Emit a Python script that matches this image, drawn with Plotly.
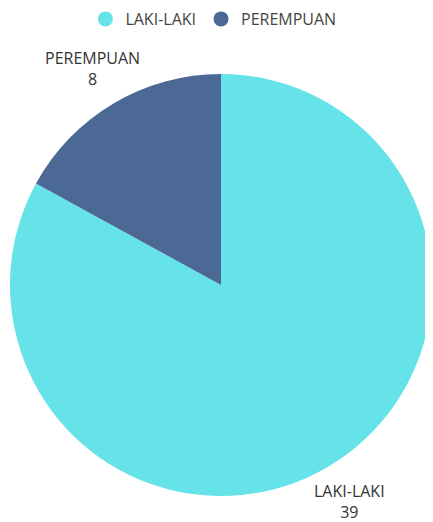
import math
import plotly.graph_objects as go

labels = ["LAKI-LAKI", "PEREMPUAN"]
values = [39, 8]
colors = ["#66E3E8", "#4C6895"]

fig = go.Figure()
fig.add_trace(go.Pie(
    labels=labels, values=values, sort=False, direction="clockwise", rotation=0,
    marker=dict(colors=colors, line=dict(width=0)),
    textinfo="none", showlegend=False,
    hoverinfo="label+value+percent",
))
for lab, col in zip(labels, colors):
    fig.add_trace(go.Scatter(x=[None], y=[None], mode="markers", name=lab,
                             marker=dict(symbol="circle", size=15, color=col)))

# outside data labels placed along each slice's mid-angle
total = sum(values)
cum = 0
annotations = []
k = 1.195
for lab, val in zip(labels, values):
    mid = (cum + val / 2) / total * 2 * math.pi
    cum += val
    ax = 0.5 + 0.5 * k * math.sin(mid)
    ay = 0.5 + 0.5 * k * math.cos(mid)
    annotations.append(dict(text=f"{lab}<br>{val}", xref="paper", yref="paper",
                            x=ax, y=ay, showarrow=False,
                            xanchor="center", yanchor="middle", align="center",
                            font=dict(family="Open Sans", size=16, color="#333333")))

fig.update_layout(
    width=433, height=522,
    margin=dict(l=2, r=9, t=66, b=34),
    paper_bgcolor="#FFFFFF", plot_bgcolor="rgba(0,0,0,0)",
    xaxis=dict(visible=False), yaxis=dict(visible=False),
    font=dict(family="Open Sans", size=16, color="#444444"),
    annotations=annotations,
    legend=dict(orientation="h", x=0.482, xanchor="center", yref="container",
                y=1 - 11 / 522, yanchor="middle", font=dict(size=16, color="#444444"),
                itemwidth=30, bgcolor="rgba(0,0,0,0)"),
)
fig.write_html("out.html")
